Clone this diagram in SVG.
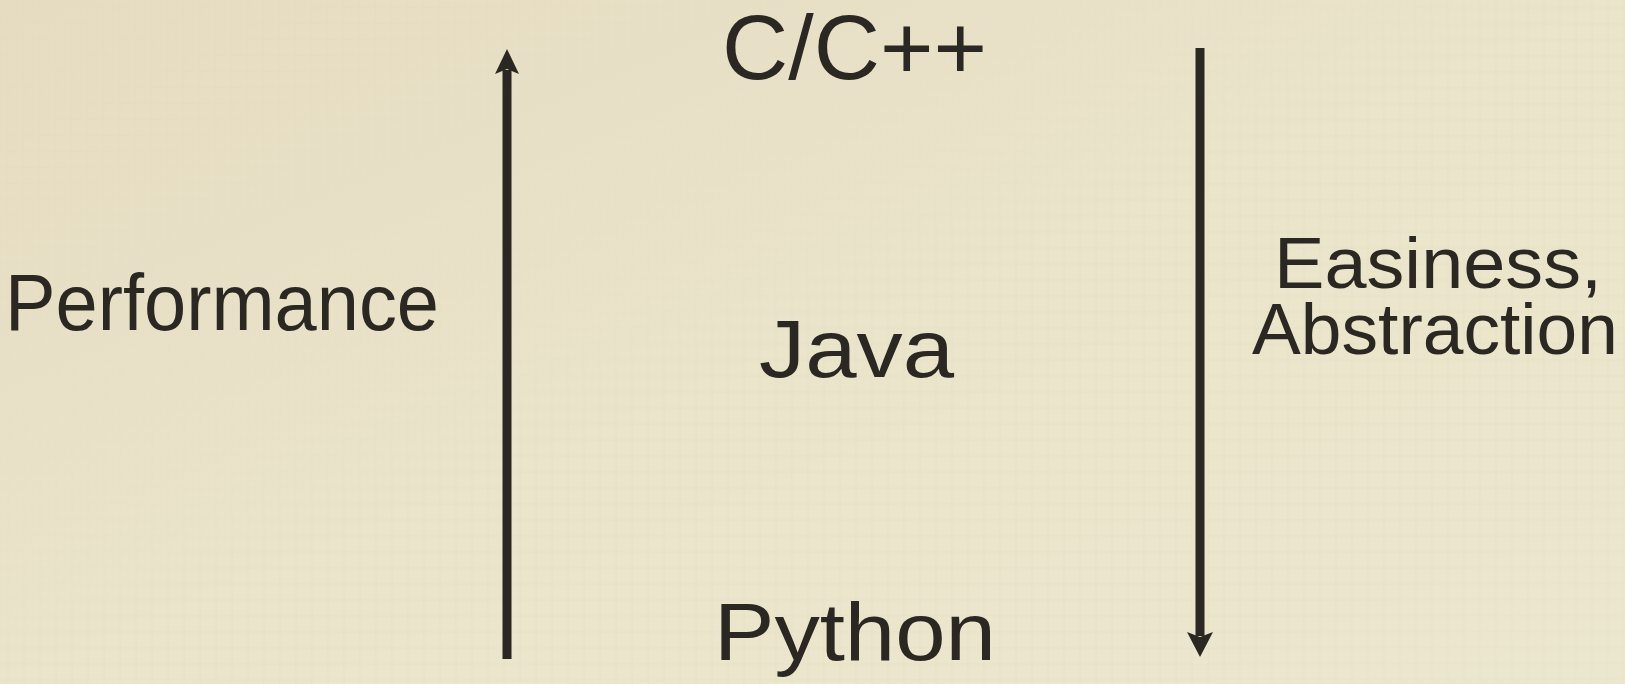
<svg xmlns="http://www.w3.org/2000/svg" width="1625" height="684" viewBox="0 0 1625 684">
<defs>
<linearGradient id="bg" x1="0" y1="0" x2="1" y2="1">
<stop offset="0" stop-color="#E6DCC2"/>
<stop offset="0.5" stop-color="#EAE4CA"/>
<stop offset="1" stop-color="#EBE7CE"/>
</linearGradient>
<pattern id="tex" width="16" height="16" patternUnits="userSpaceOnUse">
<rect width="16" height="16" fill="none"/>
<path d="M0,8 H16 M8,0 V16" stroke="#D9D2B6" stroke-width="1" opacity="0.25"/>
</pattern>
<style>
.lbl{font-family:"Liberation Sans",Arial,Helvetica,sans-serif;fill:#2B2722;}
.ln{stroke:#2B2722;stroke-width:9;fill:none;}
.hd{fill:#2B2722;}
</style>
</defs>
<rect width="1625" height="684" fill="url(#bg)"/>
<rect width="1625" height="684" fill="url(#tex)"/>
<g id="connectors">
<line class="ln" x1="507" y1="659" x2="507" y2="70"/>
<path class="hd" d="M507,49 L519,74 L507,69 L495,74 Z"/>
<line class="ln" x1="1200" y1="48" x2="1200" y2="636"/>
<path class="hd" d="M1200,657 L1213,632 L1200,637 L1187,632 Z"/>
</g>
<g id="c-cpp"><text class="lbl" x="722" y="79" font-size="90" textLength="265" lengthAdjust="spacingAndGlyphs">C/C++</text></g>
<g id="java"><text class="lbl" x="759" y="377" font-size="82" textLength="195" lengthAdjust="spacingAndGlyphs">Java</text></g>
<g id="python"><text class="lbl" x="714" y="660" font-size="81" textLength="282" lengthAdjust="spacingAndGlyphs">Python</text></g>
<g id="performance"><text class="lbl" x="5" y="330" font-size="80" textLength="434" lengthAdjust="spacingAndGlyphs">Performance</text></g>
<g id="easiness"><text class="lbl" x="1274" y="288" font-size="73" textLength="328" lengthAdjust="spacingAndGlyphs">Easiness,</text>
<text class="lbl" x="1252" y="354" font-size="73" textLength="366" lengthAdjust="spacingAndGlyphs">Abstraction</text></g>
</svg>
